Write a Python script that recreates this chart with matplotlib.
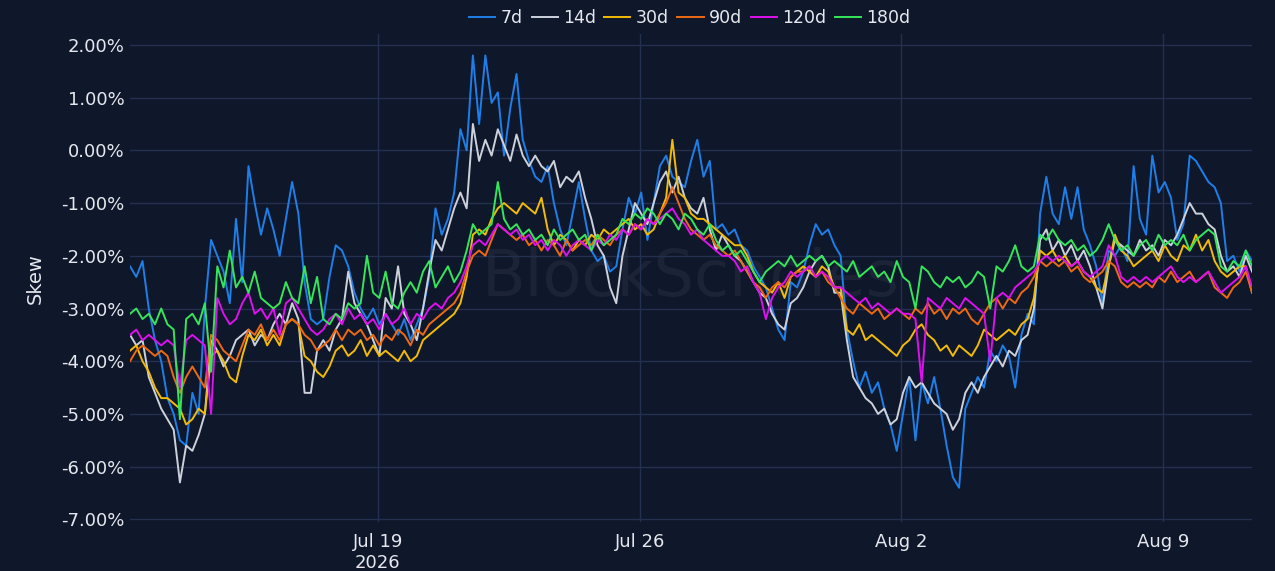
import numpy as np
import pandas as pd
from matplotlib import pyplot as plt

# 4-hourly skew readings (in %), one row per day starting Jul 12 09:00
times = pd.date_range('2026-07-12 09:00', periods=181, freq='4h')

skew_7d = [
    -2.2, -2.4, -2.1, -3.0, -3.6, -4.0,
    -4.7, -5.0, -5.5, -5.6, -4.6, -5.0,
    -3.0, -1.7, -2.0, -2.3, -2.9, -1.3,
    -2.5, -0.3, -1.0, -1.6, -1.1, -1.5,
    -2.0, -1.3, -0.6, -1.2, -2.5, -3.2,
    -3.3, -3.2, -2.4, -1.8, -1.9, -2.2,
    -2.7, -3.0, -3.2, -3.0, -3.3, -3.1,
    -3.3, -3.5, -3.2, -3.6, -3.3, -3.0,
    -2.4, -1.1, -1.6, -1.3, -0.8, 0.4,
    0.0, 1.8, 0.5, 1.8, 0.9, 1.1,
    -0.1, 0.8, 1.45, 0.2, -0.2, -0.5,
    -0.6, -0.3, -1.0, -1.5, -1.8, -1.2,
    -0.6, -1.3, -1.9, -2.1, -2.0, -2.3,
    -2.2, -1.5, -0.9, -1.2, -0.8, -1.7,
    -1.0, -0.3, -0.1, -0.5, -0.6, -0.7,
    -0.2, 0.2, -0.5, -0.2, -1.5, -1.4,
    -1.6, -1.5, -1.8, -1.9, -2.2, -2.4,
    -2.6, -3.0, -3.4, -3.6, -2.5, -2.6,
    -2.3, -1.8, -1.4, -1.6, -1.5, -1.8,
    -2.0, -3.4, -4.0, -4.5, -4.2, -4.6,
    -4.4, -4.9, -5.2, -5.7, -5.0, -4.3,
    -5.5, -4.4, -4.8, -4.3, -4.9, -5.6,
    -6.2, -6.4, -4.9, -4.6, -4.3, -4.5,
    -3.8, -4.0, -3.7, -3.9, -4.5, -3.5,
    -3.1, -3.3, -1.2, -0.5, -1.2, -1.4,
    -0.7, -1.3, -0.7, -1.5, -1.8, -2.2,
    -2.9, -1.9, -2.0, -1.8, -2.1, -0.3,
    -1.3, -1.6, -0.1, -0.8, -0.6, -0.9,
    -1.7, -1.4, -0.1, -0.2, -0.4, -0.6,
    -0.7, -1.0, -2.1, -2.0, -2.3, -1.9,
    -2.1]

skew_14d = [
    -3.5, -3.7, -3.6, -4.3, -4.6, -4.9,
    -5.1, -5.3, -6.3, -5.6, -5.7, -5.4,
    -5.0, -3.6, -3.8, -4.1, -3.9, -3.6,
    -3.5, -3.4, -3.7, -3.5, -3.6, -3.3,
    -3.1, -3.3, -2.9, -3.2, -4.6, -4.6,
    -3.8, -3.6, -3.8, -3.4, -3.2, -2.3,
    -2.9, -3.1, -3.3, -3.6, -3.9, -2.8,
    -3.0, -2.2, -3.1, -3.3, -3.6, -3.0,
    -2.3, -1.7, -1.9, -1.5, -1.1, -0.8,
    -1.1, 0.5, -0.2, 0.2, -0.1, 0.4,
    0.1, -0.2, 0.3, -0.1, -0.3, -0.1,
    -0.3, -0.4, -0.2, -0.7, -0.5, -0.6,
    -0.4, -0.9, -1.3, -1.8, -2.0, -2.6,
    -2.9, -2.0, -1.5, -1.0, -1.2, -1.4,
    -1.0, -0.6, -0.4, -0.8, -0.5, -0.9,
    -1.1, -1.2, -0.9, -1.5, -1.9, -1.6,
    -1.8, -2.0, -2.1, -2.3, -2.5, -2.7,
    -2.8, -3.1, -3.3, -3.4, -2.9, -2.8,
    -2.6, -2.3, -2.1, -2.0, -2.2, -2.7,
    -2.7, -3.6, -4.3, -4.5, -4.7, -4.8,
    -5.0, -4.9, -5.2, -5.1, -4.6, -4.3,
    -4.5, -4.4, -4.6, -4.8, -4.9, -5.0,
    -5.3, -5.1, -4.6, -4.4, -4.6, -4.3,
    -4.1, -3.9, -4.1, -3.8, -3.9, -3.6,
    -3.5, -3.0, -1.7, -1.5, -1.9, -1.7,
    -2.0, -1.8, -2.1, -1.9, -2.2, -2.6,
    -3.0, -2.2, -1.7, -1.8, -1.9, -2.0,
    -1.7, -1.9, -1.8, -2.0, -1.7, -1.8,
    -1.6, -1.3, -1.0, -1.2, -1.2, -1.4,
    -1.5, -2.0, -2.3, -2.2, -2.4, -2.0,
    -2.3]

skew_30d = [
    -3.8, -3.7, -4.0, -4.2, -4.5, -4.7,
    -4.7, -4.8, -4.9, -5.2, -5.1, -4.9,
    -5.0, -3.9, -3.8, -4.0, -4.3, -4.4,
    -3.9, -3.5, -3.6, -3.4, -3.7, -3.5,
    -3.7, -3.3, -3.2, -3.3, -3.9, -4.0,
    -4.2, -4.3, -4.1, -3.8, -3.7, -3.9,
    -3.8, -3.6, -3.9, -3.7, -3.9, -3.8,
    -3.9, -4.0, -3.8, -4.0, -3.9, -3.6,
    -3.5, -3.4, -3.3, -3.2, -3.1, -2.9,
    -2.4, -1.6, -1.5, -1.6, -1.3, -1.1,
    -1.0, -1.1, -1.2, -1.0, -1.1, -1.2,
    -0.9, -1.5, -1.8, -1.6, -1.7, -1.9,
    -1.7, -1.8, -1.6, -1.7, -1.5, -1.6,
    -1.5, -1.4, -1.3, -1.5, -1.4, -1.6,
    -1.5, -1.2, -0.9, 0.2, -0.8, -0.9,
    -1.2, -1.3, -1.3, -1.4, -1.5, -1.6,
    -1.7, -1.8, -1.8, -2.0, -2.3, -2.5,
    -2.6, -2.7, -2.5, -2.8, -2.4, -2.3,
    -2.2, -2.3, -2.4, -2.2, -2.3, -2.6,
    -2.6, -3.4, -3.5, -3.3, -3.6, -3.5,
    -3.6, -3.7, -3.8, -3.9, -3.7, -3.6,
    -3.4, -3.3, -3.5, -3.6, -3.8, -3.7,
    -3.9, -3.7, -3.8, -3.9, -3.7, -3.4,
    -3.5, -3.6, -3.5, -3.4, -3.5, -3.3,
    -3.2, -2.8, -1.9, -2.0, -1.9, -2.1,
    -2.0, -2.2, -2.1, -2.3, -2.4, -2.6,
    -2.7, -2.2, -1.6, -1.9, -2.0, -2.2,
    -2.1, -2.0, -1.9, -2.1, -1.8, -2.0,
    -2.1, -1.8, -1.9, -1.6, -1.9, -1.7,
    -2.1, -2.3, -2.4, -2.3, -2.2, -2.2,
    -2.7]

skew_90d = [
    -4.0, -3.8, -3.7, -3.8, -3.9, -3.8,
    -3.9, -4.3, -4.6, -4.3, -4.1, -4.3,
    -4.5, -3.5, -3.6, -3.8, -3.9, -4.0,
    -3.7, -3.4, -3.5, -3.3, -3.6, -3.4,
    -3.6, -3.3, -3.2, -3.3, -3.5, -3.6,
    -3.8, -3.7, -3.6, -3.4, -3.6, -3.4,
    -3.5, -3.4, -3.6, -3.5, -3.7, -3.5,
    -3.6, -3.4, -3.5, -3.7, -3.4, -3.5,
    -3.3, -3.2, -3.1, -3.0, -2.9, -2.7,
    -2.3, -2.0, -1.9, -2.0, -1.7, -1.4,
    -1.5, -1.6, -1.7, -1.6, -1.8, -1.7,
    -1.9, -1.7, -1.8, -2.0, -1.7, -1.9,
    -1.8, -1.7, -1.8, -1.6, -1.7, -1.8,
    -1.6, -1.5, -1.6, -1.4, -1.5, -1.3,
    -1.4, -1.2, -1.0, -0.7, -1.0, -1.3,
    -1.5, -1.6, -1.7, -1.6, -1.8, -1.9,
    -2.0, -1.9, -2.1, -2.3, -2.5, -2.6,
    -2.8, -2.6, -2.5, -2.6, -2.4, -2.3,
    -2.3, -2.2, -2.4, -2.3, -2.5, -2.6,
    -2.8, -3.0, -3.1, -2.9, -3.0, -3.1,
    -3.0, -3.2, -3.1, -3.0, -3.1, -3.2,
    -3.0, -3.1, -2.9, -3.1, -3.0, -3.2,
    -3.0, -3.1, -3.0, -3.2, -3.3, -3.1,
    -2.9, -2.8, -3.0, -2.8, -2.9, -2.7,
    -2.6, -2.4, -2.1, -2.2, -2.1, -2.2,
    -2.1, -2.3, -2.2, -2.4, -2.5, -2.4,
    -2.3, -2.1, -2.2, -2.5, -2.6, -2.5,
    -2.6, -2.5, -2.6, -2.4, -2.5, -2.3,
    -2.5, -2.4, -2.3, -2.5, -2.4, -2.3,
    -2.6, -2.7, -2.8, -2.6, -2.5, -2.3,
    -2.7]

skew_120d = [
    -3.5, -3.4, -3.6, -3.5, -3.6, -3.7,
    -3.6, -3.7, -4.5, -3.6, -3.5, -3.6,
    -3.7, -5.0, -2.8, -3.1, -3.3, -3.2,
    -2.9, -2.7, -3.1, -3.0, -3.2, -3.0,
    -3.5, -2.9, -2.8, -3.0, -3.2, -3.4,
    -3.5, -3.4, -3.2, -3.1, -3.3, -3.0,
    -3.2, -3.1, -3.3, -3.2, -3.4, -3.1,
    -3.3, -3.2, -3.0, -3.3, -3.1, -3.2,
    -3.0, -2.9, -3.0, -2.8, -2.7, -2.5,
    -2.2, -1.8, -1.7, -1.8, -1.6, -1.4,
    -1.5, -1.6, -1.5, -1.7, -1.6, -1.8,
    -1.7, -1.9, -1.7, -1.8, -2.0, -1.8,
    -1.7, -1.8, -1.9, -1.7, -1.8, -1.6,
    -1.7, -1.5, -1.6, -1.4, -1.5, -1.3,
    -1.4, -1.3, -1.2, -1.1, -1.3, -1.4,
    -1.6, -1.5, -1.7, -1.8, -1.9, -2.0,
    -2.0, -2.1, -2.3, -2.2, -2.5, -2.7,
    -3.2, -2.8, -2.6, -2.5, -2.3, -2.4,
    -2.3, -2.2, -2.4, -2.3, -2.4, -2.6,
    -2.6, -2.7, -2.8, -2.9, -2.8, -3.0,
    -2.9, -3.0, -3.1, -3.0, -3.1, -3.1,
    -3.2, -4.4, -2.8, -2.9, -3.0, -2.8,
    -2.9, -3.0, -2.8, -2.9, -3.0, -3.1,
    -4.0, -2.8, -2.7, -2.8, -2.6, -2.5,
    -2.4, -2.3, -2.1, -2.0, -2.1, -2.0,
    -2.1, -2.2, -2.1, -2.3, -2.4, -2.3,
    -2.2, -1.8, -2.0, -2.4, -2.5, -2.4,
    -2.5, -2.4, -2.5, -2.4, -2.3, -2.2,
    -2.4, -2.5, -2.4, -2.5, -2.4, -2.3,
    -2.5, -2.7, -2.6, -2.5, -2.4, -2.2,
    -2.6]

skew_180d = [
    -3.1, -3.0, -3.2, -3.1, -3.3, -3.0,
    -3.3, -3.4, -5.1, -3.2, -3.1, -3.3,
    -2.9, -4.2, -2.2, -2.6, -1.9, -2.6,
    -2.4, -2.7, -2.3, -2.8, -2.9, -3.0,
    -2.9, -2.5, -2.8, -2.9, -2.2, -2.9,
    -2.4, -3.2, -3.3, -3.1, -3.2, -2.9,
    -3.0, -2.9, -2.0, -2.7, -2.8, -2.3,
    -2.9, -3.0, -2.7, -2.5, -2.7, -2.3,
    -2.1, -2.6, -2.4, -2.2, -2.5, -2.3,
    -1.9, -1.4, -1.6, -1.5, -1.4, -0.6,
    -1.3, -1.5, -1.4, -1.6, -1.5, -1.7,
    -1.6, -1.8, -1.5, -1.7, -1.6, -1.5,
    -1.7, -1.6, -1.9, -1.6, -1.8, -1.7,
    -1.6, -1.3, -1.4, -1.2, -1.3, -1.1,
    -1.2, -1.4, -1.2, -1.3, -1.5, -1.2,
    -1.3, -1.5, -1.6, -1.4, -1.7, -1.9,
    -1.8, -2.0, -1.9, -2.1, -2.3, -2.5,
    -2.3, -2.2, -2.1, -2.2, -2.0, -2.2,
    -2.1, -2.0, -2.1, -2.0, -2.2, -2.1,
    -2.2, -2.3, -2.1, -2.4, -2.3, -2.2,
    -2.4, -2.3, -2.5, -2.1, -2.4, -2.5,
    -3.0, -2.2, -2.3, -2.5, -2.6, -2.4,
    -2.5, -2.4, -2.6, -2.5, -2.3, -2.4,
    -3.0, -2.2, -2.3, -2.1, -1.8, -2.2,
    -2.3, -2.2, -1.6, -1.7, -1.5, -1.7,
    -1.8, -1.7, -1.9, -1.8, -2.0, -1.9,
    -1.7, -1.4, -1.7, -1.9, -1.8, -2.0,
    -1.8, -1.7, -1.9, -1.6, -1.8, -1.7,
    -1.8, -1.6, -1.9, -1.7, -1.6, -1.5,
    -1.6, -2.2, -2.3, -2.1, -2.2, -1.9,
    -2.2]

series_names = ['7d', '14d', '30d', '90d', '120d', '180d']
series_values = [skew_7d, skew_14d, skew_30d, skew_90d, skew_120d, skew_180d]
colors = ['#1f7fe8', '#cdd1da', '#f2bb05', '#ee6a12', '#dd10ee', '#35e65a']

tick_dates = pd.to_datetime(['2026-07-19', '2026-07-26', '2026-08-02', '2026-08-09'])
tick_labels = ['Jul 19\n2026', 'Jul 26', 'Aug 2', 'Aug 9']
y_ticks = np.arange(-7, 3, 1)

bg = '#0f172b'
grid_color = '#243050'
text_color = '#e6e8ee'

fig = plt.figure(figsize=(12.75, 5.71), dpi=100, facecolor=bg)
ax = fig.add_axes([0.102, 0.0858, 0.880, 0.854], facecolor=bg)

# faint watermark behind the lines
ax.text(0.5, 0.5, 'BlockScholes', transform=ax.transAxes, ha='center', va='center',
        fontsize=46, color='#1c2337', zorder=0.5)

for name, vals, c in zip(series_names, series_values, colors):
    ax.plot(times, vals, color=c, lw=1.4, label=name, zorder=2)

ax.set_xlim(times[0], times[-1])
ax.set_ylim(-7.05, 2.2)
ax.set_yticks(y_ticks)
ax.set_yticklabels([f'{v:.2f}%' for v in y_ticks])
ax.set_xticks(tick_dates)
ax.set_xticklabels(tick_labels)
ax.grid(True, color=grid_color, lw=1.0, zorder=0)
ax.set_axisbelow(True)
for s in ax.spines.values():
    s.set_visible(False)
ax.tick_params(axis='y', length=0, colors=text_color, labelsize=13, pad=4)
ax.tick_params(axis='x', length=0, colors=text_color, labelsize=13, pad=8)
ax.set_ylabel('Skew', color=text_color, fontsize=14, labelpad=12)

fig.legend(loc='upper center', bbox_to_anchor=(0.541, 1.012), ncol=6, frameon=False,
           handlelength=1.5, handletextpad=0.3, columnspacing=0.5, fontsize=12.5,
           labelcolor=text_color)

fig.savefig('out.png', dpi=100, facecolor=bg)
